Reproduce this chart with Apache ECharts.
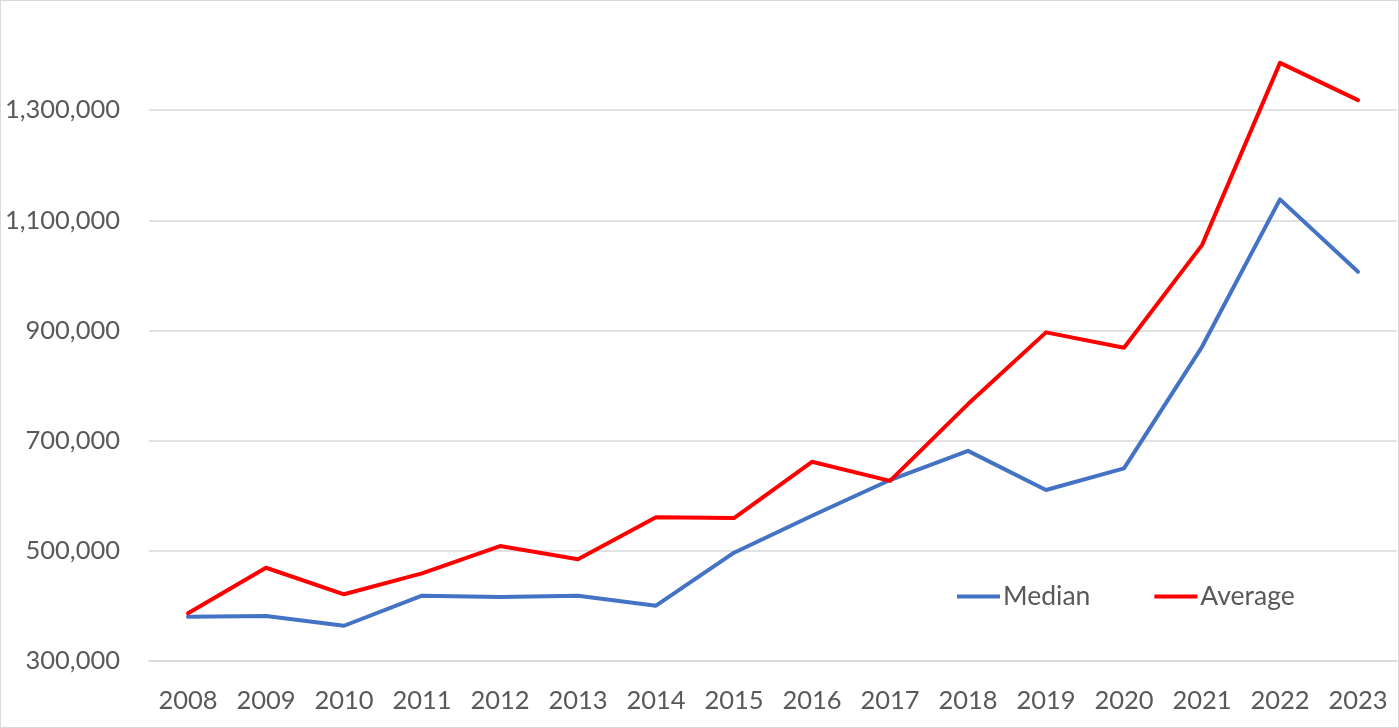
<!DOCTYPE html>
<html>
<head>
<meta charset="utf-8">
<script src="https://cdn.jsdelivr.net/npm/echarts@6/dist/echarts.min.js"></script>
<style>
html,body{margin:0;padding:0;background:#fff;}
#wrap{position:relative;width:1399px;height:728px;}
#chart{position:absolute;left:0;top:0;width:1399px;height:728px;}
#border{position:absolute;left:0;top:0;width:1397px;height:726px;border:1px solid #d9d9d9;pointer-events:none;}
</style>
</head>
<body>
<div id="wrap"><div id="chart"></div><div id="border"></div></div>
<script>
const years = ['2008','2009','2010','2011','2012','2013','2014','2015','2016','2017','2018','2019','2020','2021','2022','2023'];
const median = [380400, 381700, 364000, 418500, 416000, 418500, 400400, 496600, 563700, 628500, 681500, 610400, 649700, 870400, 1138000, 1006600];
const average = [386600, 469300, 421100, 459200, 508700, 484600, 560800, 559500, 661700, 627000, 766400, 896600, 868600, 1055000, 1385900, 1318200];

const chart = echarts.init(document.getElementById('chart'));
const fontFamily = 'Lato, "Open Sans", sans-serif';
chart.setOption({
  animation: false,
  backgroundColor: '#ffffff',
  grid: {left: 149, right: 2, top: 0, bottom: 67, containLabel: false},
  legend: {
    left: 952, top: 578,
    itemWidth: 43, itemHeight: 4, itemGap: 64,
    icon: 'rect',
    textStyle: {color: '#595959', fontSize: 26.5, fontFamily: fontFamily, padding: [0,0,0,-2]},
    data: ['Median', 'Average']
  },
  xAxis: {
    type: 'category',
    data: years,
    boundaryGap: true,
    axisLine: {show: true, lineStyle: {color: '#d9d9d9', width: 1.5}},
    axisTick: {show: false},
    axisLabel: {color: '#595959', fontSize: 25.5, fontFamily: fontFamily, margin: 27}
  },
  yAxis: {
    type: 'value',
    min: 300000, max: 1500000, interval: 200000,
    axisLine: {show: false},
    axisTick: {show: false},
    axisLabel: {
      color: '#595959', fontSize: 25.5, fontFamily: fontFamily, margin: 29,
      showMaxLabel: false,
      formatter: v => v.toLocaleString('en-US')
    },
    splitLine: {lineStyle: {color: '#d9d9d9', width: 1.5}}
  },
  series: [
    {name: 'Median', type: 'line', data: median, showSymbol: false, symbol: 'none',
     lineStyle: {color: '#4472C4', width: 4, cap: 'round', join: 'round'}, itemStyle: {color: '#4472C4'}},
    {name: 'Average', type: 'line', data: average, showSymbol: false, symbol: 'none',
     lineStyle: {color: '#FF0000', width: 4, cap: 'round', join: 'round'}, itemStyle: {color: '#FF0000'}}
  ]
});
</script>
</body>
</html>
